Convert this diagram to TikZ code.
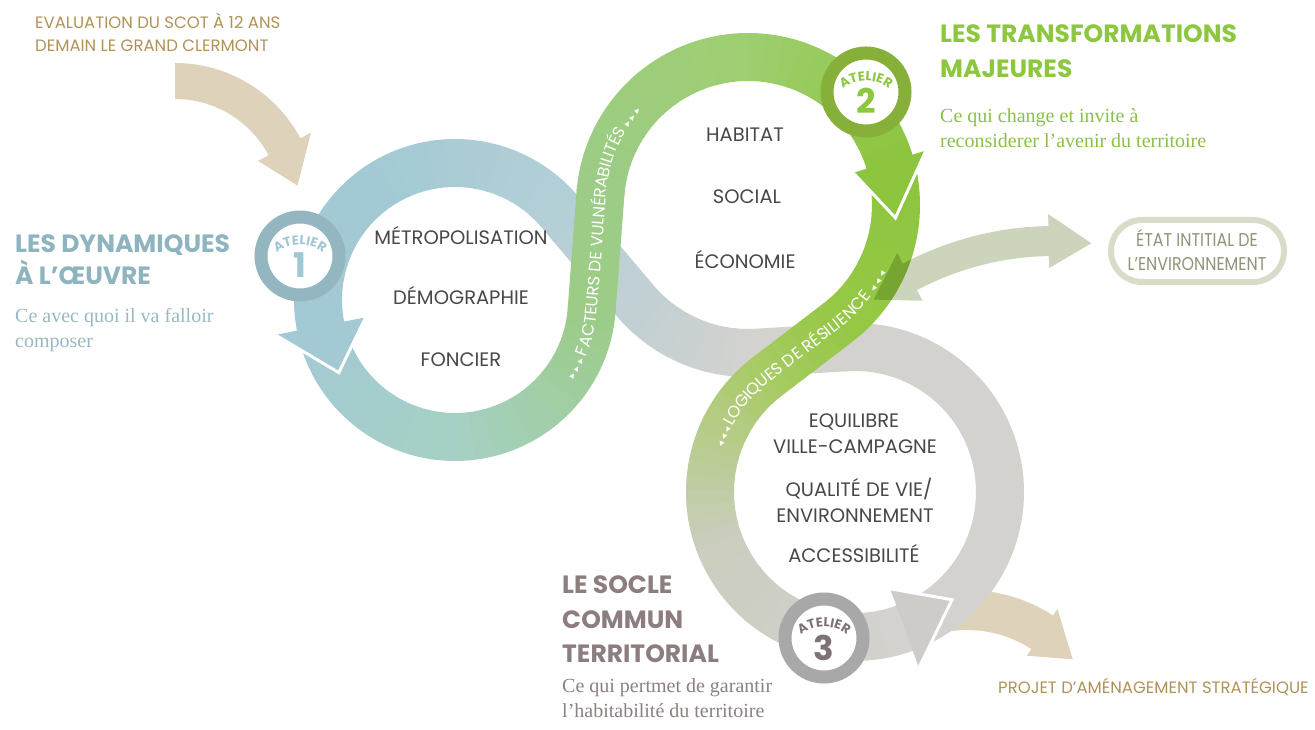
\documentclass[tikz,border=0pt]{standalone}
\usepackage{fontspec}
\setmainfont{Liberation Serif}
\newfontfamily\popp{Poppins}
\newfontfamily\poppc{Poppins}[FakeStretch=0.86]
\newfontfamily\symf{DejaVu Sans}
\usetikzlibrary{calc,decorations.text}

\definecolor{cbeige}{RGB}{222,211,186}
\definecolor{cbeigetxt}{RGB}{176,146,88}
\definecolor{cbluetitle}{RGB}{141,180,191}
\definecolor{cbluesub}{RGB}{150,186,196}
\definecolor{cgreentitle}{RGB}{141,198,63}
\definecolor{cgreensub}{RGB}{138,192,72}
\definecolor{csocle}{RGB}{140,125,126}
\definecolor{csoclesub}{RGB}{140,128,128}
\definecolor{ctxt}{RGB}{72,72,72}
\definecolor{cstate}{RGB}{205,212,188}
\definecolor{cboxline}{RGB}{216,221,202}
\definecolor{cstatetxt}{RGB}{140,148,118}
\definecolor{cbaring}{RGB}{147,182,192}
\definecolor{cbatxt}{RGB}{160,200,212}
\definecolor{cbbring}{RGB}{135,176,58}
\definecolor{cbbtxt}{RGB}{141,198,63}
\definecolor{cbcring}{RGB}{168,168,168}
\definecolor{cbctxt}{RGB}{125,115,117}
% band colours
\definecolor{cgrey}{RGB}{212,210,207}
\definecolor{cgreyH}{RGB}{206,204,201}
\definecolor{cbgrey}{RGB}{193,208,212}
\definecolor{cblueL}{RGB}{180,207,214}
\definecolor{cblue}{RGB}{163,202,212}
\definecolor{cteal}{RGB}{166,208,196}
\definecolor{cgreenA}{RGB}{156,204,134}
\definecolor{cgreenB}{RGB}{158,206,112}
\definecolor{cgreenC}{RGB}{141,197,62}
\definecolor{cgreenD}{RGB}{150,200,70}
\definecolor{cgreenF}{RGB}{168,203,100}
\definecolor{cgreyG}{RGB}{202,205,190}

% gradient arc: centre, radius, a0, a1, colA, colB, pieces, width
\newcommand\gradarc[8]{%
  \foreach \k in {1,...,#7}{%
    \pgfmathsetmacro\gaS{#3+(#4-#3)*(\k-1)/#7}%
    \pgfmathsetmacro\gaE{#3+(#4-#3)*\k/#7+0.4*sign(#4-#3)}%
    \pgfmathsetmacro\gaP{100-100*(\k-0.5)/#7}%
    \draw[line width=#8, draw={#5!\gaP!#6}] ($(#1)+(\gaS:#2)$) arc[start angle=\gaS, end angle=\gaE, radius=#2];
  }%
}
% gradient line: from, to, colA, colB, pieces, width
\newcommand\gradline[6]{%
  \foreach \k in {1,...,#5}{%
    \pgfmathsetmacro\glS{(\k-1)/#5}%
    \pgfmathsetmacro\glE{\k/#5+0.03}%
    \pgfmathsetmacro\gaP{100-100*(\k-0.5)/#5}%
    \draw[line width=#6, draw={#3!\gaP!#4}] ($(#1)!\glS!(#2)$) -- ($(#1)!\glE!(#2)$);
  }%
}
% arrow head on a ring: centre, radius, back angle, tip angle, half width, colour
\newcommand\arrowhd[6]{%
  \fill[#6] ($(#1)+(#3:#2+#5)$) -- ($(#1)+(#4:#2)$) -- ($(#1)+(#3:#2-#5)$) -- cycle;
  \draw[white, line width=3pt] ($(#1)+(#3:#2+#5)$) -- ($(#1)+(#4:#2)$) -- ($(#1)+(#3:#2-#5)$);
}

\tikzset{
  title/.style={anchor=base west, inner sep=0pt, font=\popp\bfseries\fontsize{25pt}{25pt}\selectfont},
  sub/.style={anchor=base west, inner sep=0pt, font=\rmfamily\fontsize{20pt}{20pt}\selectfont},
  lab/.style={anchor=base west, inner sep=0pt, font=\popp\fontsize{16.5pt}{16.5pt}\selectfont, text=cbeigetxt},
  ctext/.style={anchor=base, inner sep=0pt, font=\popp\fontsize{19.5pt}{19.5pt}\selectfont, text=ctxt},
  stext/.style={anchor=base, inner sep=0pt, font=\poppc\fontsize{18.5pt}{18.5pt}\selectfont, text=cstatetxt},
  badge/.style={circle, line width=13pt, fill=white, minimum size=78pt, inner sep=0pt},
  badgenum/.style={anchor=base, inner sep=0pt, font=\popp\bfseries\fontsize{34pt}{34pt}\selectfont},
}

\begin{document}
\begin{tikzpicture}[x=1pt,y=1pt]
\useasboundingbox (0,0) rectangle (1315,729);
\coordinate (C1) at (455,429);
\coordinate (C2) at (748,524);
\coordinate (C3) at (855,237);
\coordinate (T1a) at ($(C1)+(-4.33:137)$);
\coordinate (T2a) at ($(C2)+(175.68:148)$);
\coordinate (T1b) at ($(C1)+(40.26:137)$);
\coordinate (T2b) at ($(C2)+(220.26:148)$);
\coordinate (T2c) at ($(C2)+(-52.58:148)$);
\coordinate (T3c) at ($(C3)+(127.42:145)$);
\coordinate (T2d) at ($(C2)+(-86.52:148)$);
\coordinate (T3d) at ($(C3)+(93.48:145)$);

% beige arrow (top left)
\begin{scope}[shift={(175,524)}]
\fill[cbeige] (90:142) arc[start angle=90,end angle=28,radius=142] -- (28:154) -- (9:124) -- (28:94) -- (28:106) arc[start angle=28,end angle=90,radius=106] -- cycle;
\end{scope}
% beige arrow (bottom right)
\begin{scope}[shift={(967,-19)}]
\fill[cbeige] (110:158) arc[start angle=110,end angle=57,radius=158] -- (57:166) -- (40:138) -- (57:110) -- (57:118) arc[start angle=57,end angle=110,radius=118] -- cycle;
\end{scope}

% segment 1 : grey -> blue
\gradarc{C3}{145}{290}{453.48}{cgrey}{cgrey}{6}{48pt}
\gradline{T3d}{T2d}{cgrey}{cgrey}{1}{48pt}
\gradarc{C2}{148}{-86.52}{-139.74}{cgrey}{cbgrey}{12}{48pt}
\gradline{T2b}{T1b}{cbgrey}{cblueL}{6}{48pt}
\gradarc{C1}{137}{40.26}{120}{cblueL}{cblue}{12}{48pt}
\gradarc{C1}{137}{120}{191}{cblue}{cblue}{3}{48pt}
% segment 2 : blue -> green
\gradarc{C1}{137}{191}{270}{cblue}{cteal}{12}{48pt}
\gradarc{C1}{137}{270}{355.67}{cteal}{cgreenA}{12}{48pt}
\gradline{T1a}{T2a}{cgreenA}{cgreenA}{1}{48pt}
\gradarc{C2}{148}{175.68}{90}{cgreenA}{cgreenB}{12}{48pt}
\gradarc{C2}{148}{90}{17}{cgreenB}{cgreenC}{12}{48pt}
% segment 3 : green -> grey
\gradarc{C2}{148}{17}{-52.58}{cgreenC}{cgreenD}{10}{48pt}
\gradline{T2c}{T3c}{cgreenD}{cgreenF}{6}{48pt}
\gradarc{C3}{145}{127.42}{200}{cgreenF}{cgreyG}{14}{48pt}
\gradarc{C3}{145}{200}{290}{cgreyG}{cgrey}{10}{48pt}

% arrow heads
\arrowhd{C1}{137}{191}{212}{46}{cblue}
\arrowhd{C2}{148}{17}{-5}{38}{cgreenC}
\arrowhd{C3}{145}{290}{312}{42}{cgreyH}

% band texts
\path[decorate, decoration={text along path, text align=center, raise=-5.8pt, text color=white,
  text={|\symf\fontsize{10pt}{10pt}\selectfont|▸ ▸ ▸  |\popp\fontsize{16.5pt}{16.5pt}\selectfont|FACTEURS DE VULNÉRABILITÉS  |\symf\fontsize{10pt}{10pt}\selectfont|▸ ▸ ▸}}]
  ($(C1)+(-52:137)$) arc[start angle=-52,end angle=-4.33,radius=137] -- (T2a) arc[start angle=175.68,end angle=122,radius=148];
\path[decorate, decoration={text along path, text align=center, raise=-5.8pt, text color=white,
  text={|\symf\fontsize{10pt}{10pt}\selectfont|◂ ◂ ◂  |\popp\fontsize{16.5pt}{16.5pt}\selectfont|LOGIQUES DE RÉSILIENCE  |\symf\fontsize{10pt}{10pt}\selectfont|◂ ◂ ◂}}]
  ($(C3)+(172:145)$) arc[start angle=172,end angle=127.42,radius=145] -- (T2c) arc[start angle=-52.58,end angle=-16,radius=148];

% badges
\node[badge, draw=cbaring] (b1) at (300,473) {};
\node[badge, draw=cbbring] (b2) at (866,637) {};
\node[badge, draw=cbcring] (b3) at (824,91) {};
\foreach \b/\c in {b1/cbatxt, b2/cbbtxt, b3/cbctxt}{
  \path[decorate, decoration={text along path, text align=center, text color=\c,
    text={|\popp\bfseries\fontsize{13pt}{13pt}\selectfont|ATELIER}}]
    ($(\b.center)+(0,-28)+(150:39)$) arc[start angle=150,end angle=30,radius=39];
}
\node[badgenum, text=cbatxt] (n1) at ($(b1.center)+(0,-22)$) {1};
\node[badgenum, text=cbbtxt] (n2) at ($(b2.center)+(0,-22)$) {2};
\node[badgenum, text=cbctxt] (n3) at ($(b3.center)+(0,-22)$) {3};

% arrow towards the state box
\begin{scope}[shift={(1054,181)}, blend mode=multiply]
\fill[cstate] (118:322) arc[start angle=118,end angle=91,radius=322] -- (91:334) -- (83:307) -- (91:280) -- (91:292) arc[start angle=91,end angle=118,radius=292] -- (118:280) -- (126:307) -- (118:334) -- cycle;
\end{scope}
\node[draw=cboxline, line width=6pt, rounded corners=31pt, minimum width=173pt, minimum height=62pt, inner sep=0pt] (etat) at (1197.5,478) {};
\node[stext] (e1) at (1197,482) {ÉTAT INTITIAL DE};
\node[stext] (e2) at (1197,458) {L’ENVIRONNEMENT};

% centre texts
\node[ctext] (m1) at (461,484) {MÉTROPOLISATION};
\node[ctext] (m2) at (461,424) {DÉMOGRAPHIE};
\node[ctext] (m3) at (461,362) {FONCIER};
\node[ctext] (h1) at (745,587) {HABITAT};
\node[ctext] (h2) at (747,525) {SOCIAL};
\node[ctext] (h3) at (745,460) {ÉCONOMIE};
\node[ctext] (q1) at (854,301) {EQUILIBRE};
\node[ctext] (q2) at (855,275) {VILLE-CAMPAGNE};
\node[ctext] (q3) at (859,232) {QUALITÉ DE VIE/};
\node[ctext] (q4) at (855,207) {ENVIRONNEMENT};
\node[ctext] (q5) at (854,167) {ACCESSIBILITÉ};

% titles and labels
\node[lab] (ev1) at (35,700) {EVALUATION DU SCOT À 12 ANS};
\node[lab] (ev2) at (35,677) {DEMAIN LE GRAND CLERMONT};
\node[title, text=cbluetitle] (t1a) at (15,476) {LES DYNAMIQUES};
\node[title, text=cbluetitle] (t1b) at (15,444) {À L’ŒUVRE};
\node[sub, text=cbluesub] (s1a) at (15,406) {Ce avec quoi il va falloir};
\node[sub, text=cbluesub] (s1b) at (15,381) {composer};
\node[title, text=cgreentitle] (t2a) at (940,686) {LES TRANSFORMATIONS};
\node[title, text=cgreentitle] (t2b) at (940,651) {MAJEURES};
\node[sub, text=cgreensub] (s2a) at (940,606) {Ce qui change et invite à};
\node[sub, text=cgreensub] (s2b) at (940,581) {reconsiderer l’avenir du territoire};
\node[title, text=csocle] (t3a) at (562,136) {LE SOCLE};
\node[title, text=csocle] (t3b) at (562,101) {COMMUN};
\node[title, text=csocle] (t3c) at (562,67) {TERRITORIAL};
\node[sub, text=csoclesub] (s3a) at (562,37) {Ce qui pertmet de garantir};
\node[sub, text=csoclesub] (s3b) at (562,12) {l’habitabilité du territoire};
\node[lab] (proj) at (998,36) {PROJET D’AMÉNAGEMENT STRATÉGIQUE};
\end{tikzpicture}
\end{document}
